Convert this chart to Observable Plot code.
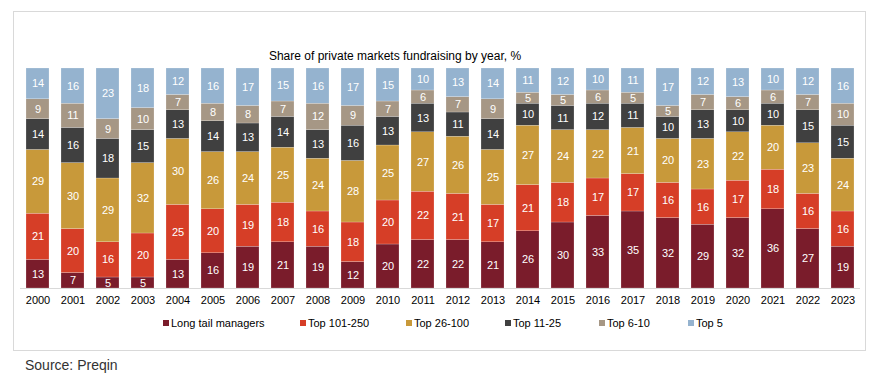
<!DOCTYPE html>
<html>
<head>
<meta charset="utf-8">
<script src="https://cdn.jsdelivr.net/npm/d3@7"></script>
<script src="https://cdn.jsdelivr.net/npm/@observablehq/plot@0.6"></script>
<style>
  html, body { margin: 0; padding: 0; background: #fff; font-family: "Liberation Sans", Arial, sans-serif; }
  #page { position: relative; width: 880px; height: 385px; overflow: hidden; }
  #box { position: absolute; left: 13px; top: 11px; width: 853px; height: 340px; border: 1px solid #d9d9d9; box-sizing: border-box; }
  #title { position: absolute; left: 0; width: 790px; top: 49px; text-align: center; font-size: 12px; color: #000; }
  #chart { position: absolute; left: 0; top: 0; }
  #legend { position: absolute; left: 0; top: 316px; width: 880px; height: 16px; font-size: 11px; color: #000; }
  .li { position: absolute; top: 0; white-space: nowrap; line-height: 14px; }
  .sw { display: inline-block; width: 6px; height: 6px; margin-right: 2px; vertical-align: 1px; }
  #source { position: absolute; left: 25px; top: 357px; font-size: 14px; color: #333; }
</style>
</head>
<body>
<div id="page">
  <div id="box"></div>
  <div id="chart"></div>
  <div id="title">Share of private markets fundraising by year, %</div>
  <div id="legend"></div>
  <div id="source">Source: Preqin</div>
</div>
<script>
const years = ["2000","2001","2002","2003","2004","2005","2006","2007","2008","2009","2010","2011","2012","2013","2014","2015","2016","2017","2018","2019","2020","2021","2022","2023"];
const seriesNames = ["Long tail managers","Top 101-250","Top 26-100","Top 11-25","Top 6-10","Top 5"];
const seriesColors = ["#7a1c2b","#d63e27","#c8993a","#404040","#a69785","#95b3cf"];
const longTail = [13,7,5,5,13,16,19,21,19,12,20,22,22,21,26,30,33,35,32,29,32,36,27,19];
const top101_250 = [21,20,16,20,25,20,19,18,16,18,20,22,21,17,21,18,17,17,16,16,17,18,16,16];
const top26_100 = [29,30,29,32,30,26,24,25,24,28,25,27,26,25,27,24,22,21,20,23,22,20,23,24];
const top11_25 = [14,16,18,15,13,14,13,14,13,16,13,13,11,14,10,11,12,11,10,13,10,10,15,15];
const top6_10 = [9,11,9,10,7,8,8,7,12,9,7,6,7,9,5,5,6,5,5,7,6,6,7,10];
const top5 = [14,16,23,18,12,16,17,15,16,17,15,10,13,14,11,12,10,11,17,12,13,10,12,16];
const legendX = [163,300,406,505,599,688];

const seriesValues = [longTail, top101_250, top26_100, top11_25, top6_10, top5];
const data = [];
seriesNames.forEach((s, i) => {
  years.forEach((y, j) => data.push({year: y, series: s, value: seriesValues[i][j]}));
});

const stackOpts = {x: "year", y: "value", z: "series", order: seriesNames, offset: "normalize"};

const chart = Plot.plot({
  width: 880,
  height: 310,
  marginLeft: 20,
  marginRight: 20,
  marginTop: 68,
  marginBottom: 22,
  style: {fontFamily: "Liberation Sans, Arial, sans-serif", fontSize: "11px", background: "transparent"},
  x: {domain: years, paddingInner: 0.343, paddingOuter: 0.1715, round: false, label: null, tickSize: 0, tickPadding: 8},
  y: {domain: [0, 1], axis: null},
  color: {domain: seriesNames, range: seriesColors},
  marks: [
    Plot.barY(data, Plot.stackY({...stackOpts, fill: "series", stroke: "#fff", strokeWidth: 0.4, strokeOpacity: 0.5})),
    Plot.text(data, Plot.stackY({...stackOpts, text: "value", fill: "#fff", fontSize: 11})),
    Plot.ruleY([0], {stroke: "#d9d9d9", strokeWidth: 1}),
    Plot.axisX({tickSize: 0, tickPadding: 8, fill: "#000", fontSize: 11, label: null})
  ]
});
document.getElementById("chart").appendChild(chart);

const legend = document.getElementById("legend");
seriesNames.forEach((s, i) => {
  const el = document.createElement("div");
  el.className = "li";
  el.style.left = legendX[i] + "px";
  el.innerHTML = `<span class="sw" style="background:${seriesColors[i]}"></span>${s}`;
  legend.appendChild(el);
});
</script>
</body>
</html>
